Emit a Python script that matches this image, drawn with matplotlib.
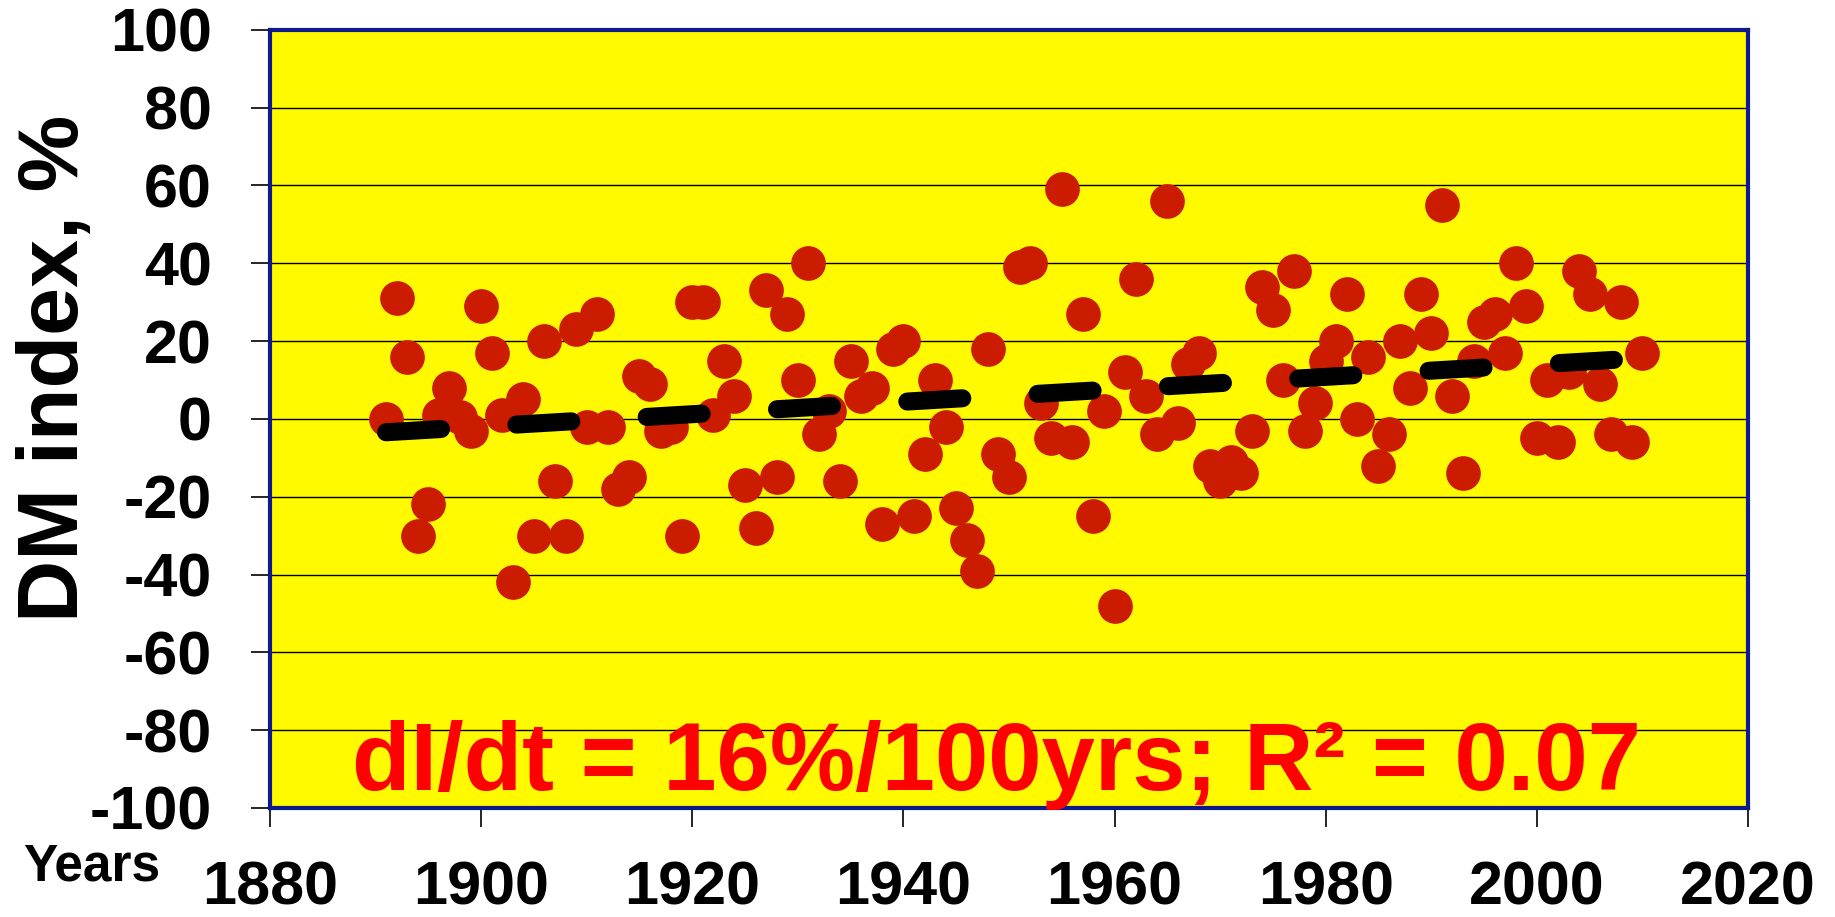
import numpy as np
import matplotlib
matplotlib.use('Agg')
import matplotlib.pyplot as plt

plt.rcParams['font.family'] = ['Liberation Sans', 'DejaVu Sans']
plt.rcParams['font.weight'] = 'bold'
plt.rcParams['axes.unicode_minus'] = False

# annual DM index, 1891-2010
years = list(range(1891, 2011))
dm_index = [
    0, 31, 16, -30, -22, 1, 8, 0.5, -3, 29,          # 1891-1900
    17, 1, -42, 5, -30, 20, -16, -30, 23, -2,        # 1901-1910
    27, -2, -18, -15, 11, 9, -3, -2, -30, 30,        # 1911-1920
    30, 1, 15, 6, -17, -28, 33, -15, 27, 10,         # 1921-1930
    40, -4, 2, -16, 15, 6, 8, -27, 18, 20,           # 1931-1940
    -25, -9, 10, -2, -23, -31, -39, 18, -9, -15,     # 1941-1950
    39, 40, 4, -5, 59, -6, 27, -25, 2, -48,          # 1951-1960
    12, 36, 6, -4, 56, -1, 14, 17, -12, -16,         # 1961-1970
    -11, -14, -3, 34, 28, 10, 38, -3, 4, 15,         # 1971-1980
    20, 32, 0, 16, -12, -4, 20, 8, 32, 22,           # 1981-1990
    55, 6, -14, 15, 25, 27, 17, 40, 29, -5,          # 1991-2000
    10, -6, 12, 38, 32, 9, -4, 30, -6, 17,           # 2001-2010
]

# linear trend: 16 % per 100 years
trend_slope = 16 / 100
trend_1950 = 6.0
trend_years = np.array([years[0], years[-1]])
trend_vals = trend_1950 + trend_slope * (trend_years - 1950)

x_ticks = list(range(1880, 2021, 20))
y_ticks = list(range(-100, 101, 20))

fig = plt.figure(figsize=(18.35, 9.17), dpi=100)
ax = fig.add_axes([0.1471, 0.1189, 0.8055, 0.8486])
ax.set_facecolor('#FFFA00')

ax.plot(years, dm_index, 'o', ms=25, color='#CC1C00', mec='none', zorder=3)
ax.plot(trend_years, trend_vals, color='black', lw=13, dashes=(3.05, 4.18),
        dash_capstyle='round', solid_capstyle='round', zorder=4)

ax.set_xlim(1880, 2020)
ax.set_ylim(-100, 100)
ax.set_xticks(x_ticks)
ax.set_yticks(y_ticks)
ax.yaxis.grid(True, color='black', lw=1)
ax.set_axisbelow(True)

for s in ax.spines.values():
    s.set_color('#0E1A8C')
    s.set_linewidth(3)

ax.tick_params(axis='both', direction='out', length=14, width=1.2,
               color='black', labelsize=44)
ax.tick_params(axis='x', pad=24)
ax.tick_params(axis='y', pad=28)

fig.text(0.0305, 0.598, 'DM index, %', rotation=90, fontsize=62,
         fontweight='bold', ha='center', va='center')
fig.text(0.050, 0.0545, 'Years', fontsize=37, fontweight='bold',
         ha='center', va='center')
fig.text(0.5433, 0.1385, 'dI/dt = 16%/100yrs; R² = 0.07', fontsize=69,
         fontweight='bold', color='#FF0000', ha='center', va='baseline')

fig.savefig('out.png', dpi=100)
